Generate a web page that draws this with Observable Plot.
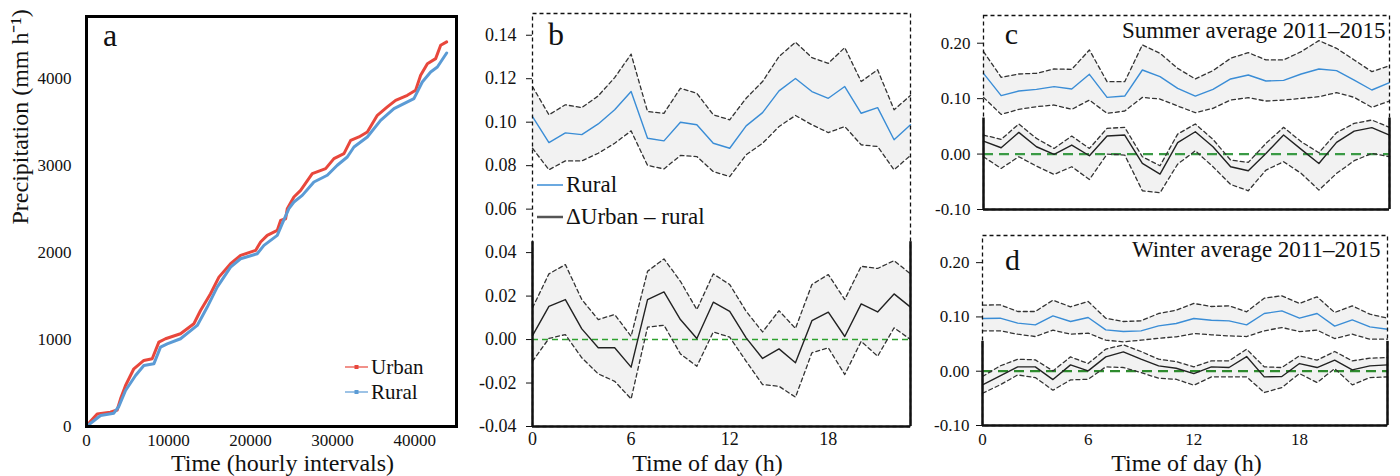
<!DOCTYPE html>
<html><head><meta charset="utf-8">
<script src="https://cdn.jsdelivr.net/npm/d3@7"></script>
<script src="https://cdn.jsdelivr.net/npm/@observablehq/plot@0.6"></script>
<style>
body{margin:0;background:#fff;}
#root{position:relative;width:1400px;height:476px;overflow:hidden;font-family:"Liberation Serif","Times New Roman",serif;color:#111;}
#root svg{position:absolute;}
</style></head><body><div id="root"></div>
<script>
// ---------- Panel a: cumulative precipitation ----------
const urbanT = [0,490,1300,2900,3740,4150,4760,5770,6990,8010,8820,9630,11460,13090,13900,15120,16140,17560,18780,20610,21220,22030,23250,23660,24270,24470,25280,26100,27520,29150,30160,31380,32200,33210,34230,35450,36670,37680,39110,40120,40730,41550,42560,43170,43900];
const urbanP = [0,60,145,165,190,318,471,663,759,778,969,1008,1065,1180,1333,1525,1716,1870,1966,2023,2119,2196,2253,2368,2387,2502,2636,2713,2905,2962,3077,3134,3287,3326,3383,3575,3671,3747,3805,3862,4034,4168,4226,4379,4418];
const ruralT = [0,1710,3330,3940,4760,5980,6990,8210,9020,9840,11460,13500,14720,15930,17560,18780,20810,21630,23250,23860,24670,25280,26300,27720,29350,30570,31790,32600,34230,35850,37480,39910,40930,41950,42770,43900];
const ruralP = [0,126,153,230,414,586,701,720,912,950,1008,1161,1372,1602,1831,1927,1985,2081,2196,2330,2502,2579,2655,2809,2886,3001,3096,3211,3326,3517,3652,3766,3958,4073,4130,4291];
const aXTicks = [0,10000,20000,30000,40000];
const aYTicks = [0,1000,2000,3000,4000];
const aXDomain = [0,45100];
const aYDomain = [0,4710];

// ---------- Diurnal panels ----------
const hours = [0,1,2,3,4,5,6,7,8,9,10,11,12,13,14,15,16,17,18,19,20,21,22,23];
const hourTicks = [0,6,12,18];

// b: full period
const bRural   = [0.1026,0.0906,0.0951,0.0943,0.0992,0.1057,0.1141,0.0926,0.0914,0.1000,0.0988,0.0903,0.0880,0.0983,0.1044,0.1144,0.1201,0.1141,0.1110,0.1164,0.1041,0.1067,0.0919,0.0988];
const bRuralHi = [0.1164,0.1034,0.1080,0.1067,0.1121,0.1205,0.1313,0.1049,0.1041,0.1156,0.1133,0.1034,0.1011,0.1110,0.1187,0.1302,0.1368,0.1297,0.1271,0.1343,0.1187,0.1241,0.1057,0.1123];
const bRuralLo = [0.0880,0.0781,0.0822,0.0822,0.0857,0.0903,0.0960,0.0801,0.0785,0.0847,0.0842,0.0773,0.0750,0.0850,0.0903,0.0980,0.1031,0.0988,0.0952,0.0980,0.0896,0.0888,0.0781,0.0847];
const bDelta   = [0.0018,0.0153,0.0184,0.0049,-0.0038,-0.0038,-0.0127,0.0184,0.0219,0.0092,0.0005,0.0172,0.0130,0.0008,-0.0087,-0.0043,-0.0107,0.0087,0.0126,0.0014,0.0164,0.0127,0.0210,0.0149];
const bDeltaHi = [0.0146,0.0302,0.0345,0.0184,0.0092,0.0115,0.0015,0.0314,0.0371,0.0268,0.0138,0.0302,0.0253,0.0130,0.0035,0.0133,0.0051,0.0253,0.0299,0.0184,0.0337,0.0327,0.0363,0.0302];
const bDeltaLo = [-0.0100,0.0005,0.0023,-0.0084,-0.0158,-0.0192,-0.0273,0.0057,0.0066,-0.0066,-0.0123,0.0035,0.0011,-0.0100,-0.0207,-0.0215,-0.0265,-0.0061,-0.0038,-0.0161,-0.0008,-0.0077,0.0054,0.0000];
const bYTicks = [-0.04,-0.02,0,0.02,0.04,0.06,0.08,0.10,0.12,0.14];

// c: summer
const cRural   = [0.1457,0.1054,0.1138,0.1168,0.1216,0.1174,0.1439,0.1023,0.1047,0.1517,0.1397,0.1186,0.1047,0.1168,0.1355,0.1427,0.1318,0.1330,0.1445,0.1535,0.1505,0.1336,0.1156,0.1288];
const cRuralHi = [0.1848,0.1385,0.1445,0.1457,0.1535,0.1529,0.1878,0.1306,0.1306,0.1969,0.1818,0.1547,0.1355,0.1505,0.1728,0.1830,0.1698,0.1698,0.1848,0.2047,0.1908,0.1698,0.1487,0.1595];
const cRuralLo = [0.1023,0.0716,0.0807,0.0855,0.0885,0.0807,0.0975,0.0734,0.0777,0.1023,0.0993,0.0867,0.0746,0.0825,0.0975,0.1017,0.0957,0.0975,0.1005,0.1035,0.1108,0.1023,0.0843,0.0957];
const cDelta   = [0.0235,0.0114,0.0391,0.0132,-0.0006,0.0163,-0.0030,0.0325,0.0343,-0.0169,-0.0361,0.0205,0.0403,0.0132,-0.0229,-0.0301,0.0012,0.0343,0.0084,-0.0169,0.0211,0.0415,0.0476,0.0343];
const cDeltaHi = [0.0343,0.0265,0.0542,0.0283,0.0102,0.0325,0.0102,0.0464,0.0482,-0.0048,-0.0211,0.0361,0.0542,0.0265,-0.0108,-0.0150,0.0193,0.0482,0.0223,0.0024,0.0385,0.0554,0.0614,0.0482];
const cDeltaLo = [-0.0048,-0.0259,-0.0048,-0.0217,-0.0367,-0.0229,-0.0458,0.0000,-0.0018,-0.0662,-0.0698,-0.0181,0.0060,-0.0229,-0.0548,-0.0662,-0.0289,-0.0138,-0.0349,-0.0650,-0.0349,-0.0120,0.0012,-0.0048];

// d: winter
const dRural   = [0.0971,0.0977,0.0885,0.0854,0.1020,0.0916,0.0990,0.0762,0.0731,0.0744,0.0836,0.0879,0.0971,0.0940,0.0928,0.0854,0.1063,0.1112,0.0977,0.1063,0.0830,0.0946,0.0817,0.0774];
const dRuralHi = [0.1217,0.1223,0.1100,0.1100,0.1309,0.1186,0.1285,0.0977,0.0916,0.0928,0.1063,0.1125,0.1248,0.1192,0.1205,0.1094,0.1346,0.1389,0.1248,0.1371,0.1082,0.1205,0.1051,0.0977];
const dRuralLo = [0.0744,0.0744,0.0682,0.0639,0.0756,0.0682,0.0701,0.0572,0.0541,0.0572,0.0608,0.0633,0.0694,0.0670,0.0651,0.0639,0.0744,0.0805,0.0731,0.0756,0.0602,0.0682,0.0590,0.0590];
const dDelta   = [-0.0252,-0.0086,0.0080,0.0080,-0.0154,0.0117,0.0006,0.0264,0.0356,0.0221,0.0098,0.0055,-0.0043,0.0080,0.0068,0.0270,-0.0104,-0.0098,0.0141,0.0068,0.0203,0.0025,0.0098,0.0117];
const dDeltaHi = [-0.0098,0.0098,0.0221,0.0209,0.0006,0.0264,0.0141,0.0406,0.0486,0.0363,0.0221,0.0178,0.0080,0.0191,0.0191,0.0406,0.0080,0.0068,0.0283,0.0203,0.0363,0.0191,0.0240,0.0252];
const dDeltaLo = [-0.0406,-0.0252,-0.0068,-0.0117,-0.0350,-0.0160,-0.0148,0.0080,0.0068,-0.0025,-0.0129,-0.0148,-0.0258,-0.0104,-0.0104,-0.0104,-0.0393,-0.0301,-0.0043,-0.0209,0.0049,-0.0252,-0.0117,-0.0104];
const cdYTicks = [-0.10,0,0.10,0.20];

// ---------- Rendering ----------
const FONT = '"Liberation Serif","Times New Roman",serif';
const root = document.getElementById("root");
function place(svg, left, top) {
  svg.style.position = "absolute";
  svg.style.left = left + "px";
  svg.style.top = top + "px";
  svg.style.maxWidth = "none";
  root.appendChild(svg);
}
const BLUE = "#3a8dd6", RED = "#e8473c", RBLUE = "#5b9bd5";
const label = (txt, opts) => Plot.text([txt], {text: d => d, lineAnchor: "middle", ...opts});

// Panel a
const aUrban = urbanT.map((t, i) => ({t, p: urbanP[i]}));
const aRural = ruralT.map((t, i) => ({t, p: ruralP[i]}));
place(Plot.plot({
  width: 470, height: 476, marginLeft: 86, marginRight: 14, marginTop: 16, marginBottom: 50,
  style: {fontFamily: FONT, fontSize: "17px", color: "#111", background: "transparent", overflow: "visible"},
  x: {domain: aXDomain, ticks: aXTicks, tickFormat: d => String(d), tickSize: 0, tickPadding: 7, label: null},
  y: {domain: aYDomain, ticks: aYTicks, tickFormat: d => String(d), tickSize: 0, tickPadding: 15, label: null},
  marks: [
    Plot.line(aUrban, {x: "t", y: "p", stroke: RED, strokeWidth: 3}),
    Plot.line(aRural, {x: "t", y: "p", stroke: RBLUE, strokeWidth: 3}),
    Plot.frame({stroke: "#000", strokeWidth: 3}),
    label("a", {frameAnchor: "top-left", dx: 23.5, dy: 19, fontSize: 32, textAnchor: "middle"}),
    label("Precipitation (mm h⁻¹)", {frameAnchor: "left", rotate: -90, dx: -66, dy: 3, fontSize: 24}),
    label("Time (hourly intervals)", {frameAnchor: "bottom", dx: 11, dy: 37, fontSize: 24})
  ]
}), 0, 0);

function diurnal(c) {
  const data = hours.map((h, i) => ({h, m: c.mean[i], hi: c.hi[i], lo: c.lo[i], dm: c.dmean[i], dhi: c.dhi[i], dlo: c.dlo[i]}));
  const dash = {stroke: "#333", strokeWidth: 1.3, strokeDasharray: "4,3"};
  const xd = [hours[0], hours[hours.length - 1]];
  const marks = [
    Plot.areaY(data, {x: "h", y1: "lo", y2: "hi", fill: "#f2f2f2"}),
    Plot.areaY(data, {x: "h", y1: "dlo", y2: "dhi", fill: "#f2f2f2"}),
    Plot.ruleY([0], {stroke: c.zeroColor, strokeWidth: c.zeroW, strokeDasharray: c.zeroDash}),
    Plot.line(data, {x: "h", y: "hi", ...dash}),
    Plot.line(data, {x: "h", y: "lo", ...dash}),
    Plot.line(data, {x: "h", y: "dhi", ...dash}),
    Plot.line(data, {x: "h", y: "dlo", ...dash}),
    Plot.line(data, {x: "h", y: "m", stroke: BLUE, strokeWidth: 1.4}),
    Plot.line(data, {x: "h", y: "dm", stroke: "#222", strokeWidth: 1.4}),
    Plot.frame({stroke: "#111", strokeWidth: 1.3, strokeDasharray: "4,3"}),
    Plot.ruleY([c.yDomain[0]], {stroke: "#111", strokeWidth: 2.5}),
    Plot.ruleX(xd, {y1: c.yDomain[0], y2: c.solidTop, stroke: "#111", strokeWidth: 2.5}),
    label(c.letter, {frameAnchor: "top-left", dx: c.letterDx, dy: c.letterDy, fontSize: c.letterSize, textAnchor: "middle"})
  ];
  if (c.title) marks.push(label(c.title, {frameAnchor: "top-right", dx: c.titleDx, dy: c.titleDy, fontSize: 23, textAnchor: "end"}));
  if (c.xlabel) marks.push(label(c.xlabel, {frameAnchor: "bottom", dx: c.xlabelDx, dy: c.xlabelDy, fontSize: 24}));
  return Plot.plot({
    width: c.width, height: c.height,
    marginLeft: c.ml, marginRight: c.mr, marginTop: c.mt, marginBottom: c.mb,
    style: {fontFamily: FONT, fontSize: c.tickFont, color: "#111", background: "transparent", overflow: "visible"},
    x: {domain: xd, ticks: hourTicks, tickFormat: d => String(d), tickSize: 0, tickPadding: c.xPad, label: null, axis: c.showX ? "bottom" : null},
    y: {domain: c.yDomain, ticks: c.yTicks, tickFormat: d => d.toFixed(2), tickSize: 6, tickPadding: c.yPad, label: null},
    marks
  });
}

place(diurnal({
  width: 460, height: 476, ml: 62, mr: 20, mt: 13, mb: 50,
  yDomain: [-0.04, 0.15], yTicks: bYTicks, solidTop: 0.045, tickFont: "18px", yPad: 10, xPad: 6, showX: true,
  mean: bRural, hi: bRuralHi, lo: bRuralLo, dmean: bDelta, dhi: bDeltaHi, dlo: bDeltaLo,
  zeroColor: "#2ea02e", zeroW: 1.4, zeroDash: "6,4",
  letter: "b", letterDx: 23.5, letterDy: 21, letterSize: 32,
  xlabel: "Time of day (h)", xlabelDx: -14, xlabelDy: 37
}), 470, 0);

place(diurnal({
  width: 470, height: 230, ml: 53, mr: 11, mt: 15, mb: 21,
  yDomain: [-0.10, 0.25], yTicks: cdYTicks, solidTop: 0.065, tickFont: "17px", yPad: 7, xPad: 7, showX: false,
  mean: cRural, hi: cRuralHi, lo: cRuralLo, dmean: cDelta, dhi: cDeltaHi, dlo: cDeltaLo,
  zeroColor: "#3a9a45", zeroW: 2.2, zeroDash: "10,6",
  letter: "c", letterDx: 28, letterDy: 19, letterSize: 30,
  title: "Summer average 2011–2015", titleDx: -4, titleDy: 15
}), 930, 0);

place(diurnal({
  width: 470, height: 246, ml: 52, mr: 13, mt: 5, mb: 51,
  yDomain: [-0.10, 0.25], yTicks: cdYTicks, solidTop: 0.055, tickFont: "17px", yPad: 7, xPad: 7, showX: true,
  mean: dRural, hi: dRuralHi, lo: dRuralLo, dmean: dDelta, dhi: dDeltaHi, dlo: dDeltaLo,
  zeroColor: "#2e8b2e", zeroW: 2.2, zeroDash: "10,6",
  letter: "d", letterDx: 30, letterDy: 25, letterSize: 30,
  title: "Winter average 2011–2015", titleDx: -7, titleDy: 14,
  xlabel: "Time of day (h)", xlabelDx: 1.5, xlabelDy: 38
}), 930, 230);

// ---------- Legends (overlay) ----------
const ov = d3.select(root).append("svg")
  .attr("width", 1400).attr("height", 476)
  .style("left", "0px").style("top", "0px").style("pointer-events", "none")
  .style("font-family", FONT).style("fill", "#111");
function legendItem(x, y, len, color, width, text, size, marker) {
  ov.append("line").attr("x1", x).attr("x2", x + len).attr("y1", y).attr("y2", y)
    .attr("stroke", color).attr("stroke-width", width).attr("stroke-opacity", marker ? 0.6 : 1);
  if (marker) ov.append("rect").attr("x", x + len / 2 - 2).attr("y", y - 2).attr("width", 4).attr("height", 4).attr("fill", color);
  ov.append("text").attr("x", x + len + 3).attr("y", y).attr("dy", "0.32em").attr("font-size", size).text(text);
}
legendItem(345, 367, 23, RED, 2, "Urban", 21, true);
legendItem(345, 392, 23, RBLUE, 2, "Rural", 21, true);
legendItem(537, 185, 26, BLUE, 1.5, "Rural", 23, false);
legendItem(537, 217, 26, "#555", 2.5, "ΔUrban – rural", 23, false);
</script></body></html>
